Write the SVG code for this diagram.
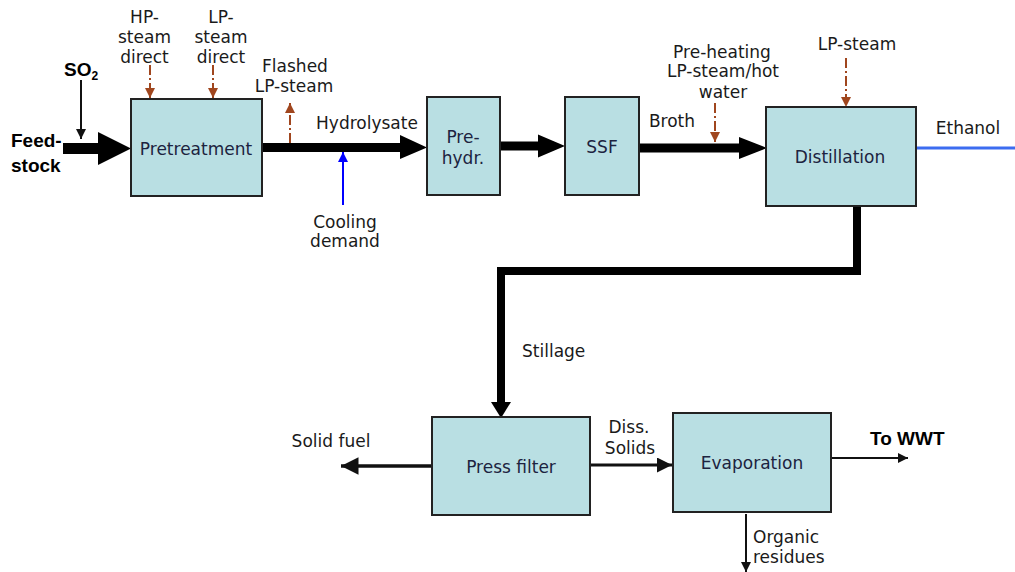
<svg xmlns="http://www.w3.org/2000/svg" width="1015" height="572" viewBox="0 0 1015 572">
<defs>
<style>
.box{fill:#b9dfe3;stroke:#222;stroke-width:2}
.bt{font-family:"DejaVu Sans",sans-serif;font-size:17px;fill:#1c2340;text-anchor:middle}
.lb{font-family:"DejaVu Sans",sans-serif;font-size:17px;fill:#1a1a1a}
.cb{font-family:"Liberation Sans",Arial,sans-serif;font-size:19px;font-weight:bold;fill:#000}
.mid{text-anchor:middle}
.steam{stroke:#a0461e;stroke-width:2;fill:none;stroke-dasharray:10 3 2 3}
.thin{stroke:#111;fill:none}
</style>
<marker id="ahBrown" viewBox="0 0 10 10" refX="10" refY="5" markerWidth="5" markerHeight="5" markerUnits="strokeWidth" orient="auto">
<path d="M0,0 L10,5 L0,10 z" fill="#a0461e"/>
</marker>
<marker id="ahBlack" viewBox="0 0 10 10" refX="10" refY="5" markerWidth="5" markerHeight="5" markerUnits="strokeWidth" orient="auto">
<path d="M0,0 L10,5 L0,10 z" fill="#111"/>
</marker>
<marker id="ahBlue" viewBox="0 0 10 10" refX="10" refY="5" markerWidth="5" markerHeight="5" markerUnits="strokeWidth" orient="auto">
<path d="M0,0 L10,5 L0,10 z" fill="#0000ff"/>
</marker>
</defs>
<rect width="1015" height="572" fill="#fff"/>

<g id="connectors">
<polygon points="63,143 98,143 98,132 131,148.5 98,165 98,154 63,154" fill="#000"/>
<polygon points="262,143 400,143 400,135 427,147.5 400,159 400,152 262,152" fill="#000"/>
<polygon points="500,141.5 538,141.5 538,134.5 565,146 538,157.5 538,150.5 500,150.5" fill="#000"/>
<polygon points="639,143.5 739,143.5 739,137 767,148 739,159 739,152.5 639,152.5" fill="#000"/>
<line x1="81" y1="80" x2="81" y2="139" class="thin" stroke-width="2" marker-end="url(#ahBlack)"/>
<line x1="150" y1="65" x2="150" y2="98" class="steam" marker-end="url(#ahBrown)"/>
<line x1="213" y1="65" x2="213" y2="98" class="steam" marker-end="url(#ahBrown)"/>
<line x1="290" y1="143" x2="290" y2="103" class="steam" marker-end="url(#ahBrown)"/>
<line x1="343" y1="205" x2="343" y2="152" stroke="#0000ff" stroke-width="2" marker-end="url(#ahBlue)"/>
<line x1="715" y1="103" x2="715" y2="142" class="steam" marker-end="url(#ahBrown)"/>
<line x1="846" y1="58" x2="846" y2="107" class="steam" marker-end="url(#ahBrown)"/>
<line x1="916" y1="148" x2="1015" y2="148" stroke="#3c6cf0" stroke-width="3"/>
<polyline points="857,206 857,271 501,271 501,403" fill="none" stroke="#000" stroke-width="8" stroke-linecap="square"/>
<polygon points="491,402 511,402 501,418" fill="#000"/>
<line x1="432" y1="466" x2="341" y2="466" class="thin" stroke-width="3.5" marker-end="url(#ahBlack)"/>
<line x1="590" y1="465" x2="672" y2="465" class="thin" stroke-width="3" marker-end="url(#ahBlack)"/>
<line x1="831" y1="458" x2="908" y2="458" class="thin" stroke-width="2" marker-end="url(#ahBlack)"/>
<line x1="746" y1="514" x2="746" y2="572" class="thin" stroke-width="2" marker-end="url(#ahBlack)"/>
</g>

<g id="pretreatment">
<rect class="box" x="131" y="99" width="131" height="97"/>
<text class="bt" x="196" y="155">Pretreatment</text>
</g>
<g id="prehydr">
<rect class="box" x="427" y="97" width="73" height="98"/>
<text class="bt" x="463" y="143">Pre-</text>
<text class="bt" x="463" y="164">hydr.</text>
</g>
<g id="ssf">
<rect class="box" x="565" y="97" width="74" height="98"/>
<text class="bt" x="602" y="153">SSF</text>
</g>
<g id="distillation">
<rect class="box" x="766" y="107" width="150" height="99"/>
<text class="bt" x="840" y="163">Distillation</text>
</g>
<g id="pressfilter">
<rect class="box" x="432" y="417" width="158" height="98"/>
<text class="bt" x="511" y="473">Press filter</text>
</g>
<g id="evaporation">
<rect class="box" x="673" y="413" width="158" height="99"/>
<text class="bt" x="752" y="469">Evaporation</text>
</g>

<g id="labels">
<text class="cb" x="11" y="147">Feed-</text>
<text class="cb" x="11" y="172">stock</text>
<text class="cb" x="64" y="76" font-size="20">SO<tspan font-size="12" dy="4">2</tspan></text>
<text class="lb mid" x="144.5" y="23">HP-</text>
<text class="lb mid" x="144.5" y="43">steam</text>
<text class="lb mid" x="144.5" y="63">direct</text>
<text class="lb mid" x="221" y="23">LP-</text>
<text class="lb mid" x="221" y="43">steam</text>
<text class="lb mid" x="221" y="63">direct</text>
<text class="lb mid" x="295" y="72">Flashed</text>
<text class="lb mid" x="294" y="92">LP-steam</text>
<text class="lb mid" x="367" y="129">Hydrolysate</text>
<text class="lb mid" x="345" y="228">Cooling</text>
<text class="lb mid" x="345" y="247">demand</text>
<text class="lb mid" x="672" y="127">Broth</text>
<text class="lb mid" x="722" y="58">Pre-heating</text>
<text class="lb mid" x="723" y="77">LP-steam/hot</text>
<text class="lb mid" x="723" y="98">water</text>
<text class="lb mid" x="857" y="50">LP-steam</text>
<text class="lb mid" x="968" y="134">Ethanol</text>
<text class="lb" x="522" y="357">Stillage</text>
<text class="lb mid" x="331" y="447">Solid fuel</text>
<text class="lb mid" x="629" y="433">Diss.</text>
<text class="lb mid" x="630" y="454">Solids</text>
<text class="cb" x="870" y="445">To WWT</text>
<text class="lb" x="753" y="543">Organic</text>
<text class="lb" x="753" y="563">residues</text>
</g>
</svg>
